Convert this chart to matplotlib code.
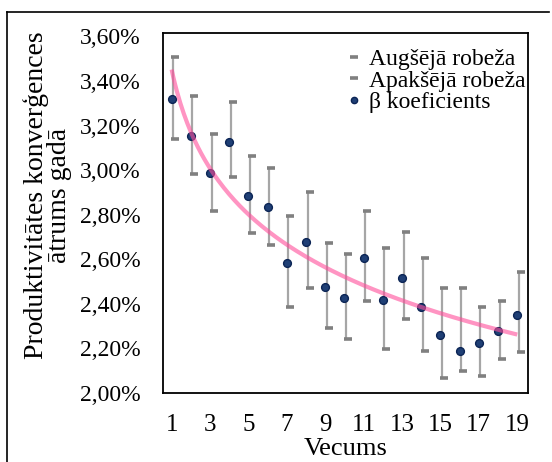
import numpy as np
import matplotlib
matplotlib.use('Agg')
import matplotlib.pyplot as plt
from matplotlib import transforms
from matplotlib.lines import Line2D

plt.rcParams['font.family'] = ['Liberation Serif', 'DejaVu Serif']

# Dati (procentos)
vecums = [1, 2, 3, 4, 5, 6, 7, 8, 9, 10, 11, 12, 13, 14, 15, 16, 17, 18, 19]
beta = [3.317, 3.151, 2.986, 3.128, 2.884, 2.833, 2.583, 2.676, 2.475, 2.424,
        2.604, 2.418, 2.518, 2.388, 2.259, 2.187, 2.223, 2.280, 2.352]
augseja = [3.507, 3.333, 3.161, 3.305, 3.061, 3.010, 2.794, 2.902, 2.673, 2.622,
           2.815, 2.650, 2.722, 2.607, 2.471, 2.471, 2.385, 2.413, 2.544]
apakseja = [3.140, 2.981, 2.817, 2.968, 2.716, 2.665, 2.385, 2.471, 2.291, 2.241,
            2.413, 2.198, 2.334, 2.190, 2.067, 2.098, 2.076, 2.154, 2.183]
y_ticks = [2.0, 2.2, 2.4, 2.6, 2.8, 3.0, 3.2, 3.4, 3.6]
x_ticks = [1, 3, 5, 7, 9, 11, 13, 15, 17, 19]

x = np.array(vecums, dtype=float)
fig = plt.figure(figsize=(5.52, 4.62), dpi=100)
ax = fig.add_axes([163 / 552, 69 / 462, 365 / 552, 360 / 462])

# nobīde kā Excel marķieriem
line_tr = transforms.offset_copy(ax.transData, fig=fig, x=1.5, y=0, units='dots')
cap_tr = transforms.offset_copy(ax.transData, fig=fig, x=3.5, y=0, units='dots')

ax.vlines(x, apakseja, augseja, colors='#A6A6A6', linewidth=1.6,
          transform=line_tr, zorder=2)
ax.plot(x, augseja, linestyle='none', marker='_', markersize=6,
        markeredgewidth=2.6, color='#808080', transform=cap_tr, zorder=3)
ax.plot(x, apakseja, linestyle='none', marker='_', markersize=6,
        markeredgewidth=2.6, color='#808080', transform=cap_tr, zorder=3)
ax.plot(x, beta, linestyle='none', marker='o', markersize=5.6,
        markerfacecolor='#1F3F75', markeredgecolor='#0B2455',
        markeredgewidth=1.0, zorder=4)

# logaritmiskā tendences līnija
b, a = np.polyfit(np.log(x), beta, 1)
xs = np.linspace(x.min(), x.max(), 200)
ax.plot(xs, a + b * np.log(xs), color='#FF4D9A', alpha=0.6, linewidth=3,
        solid_capstyle='butt', zorder=5)

ax.set_xlim(0.55, 19.56)
ax.set_ylim(2.0, 3.615)
ax.set_yticks(y_ticks)
ax.set_yticklabels([f'{v:.2f}%'.replace('.', ',') for v in y_ticks])
ax.set_xticks(x_ticks)
ax.set_xticklabels([str(v) for v in x_ticks])
ax.tick_params(axis='y', length=0, pad=16, labelsize=17)
ax.tick_params(axis='x', length=0, pad=15, labelsize=18)
for s in ax.spines.values():
    s.set_linewidth(1.3)
    s.set_color('black')

ax.set_xlabel('Vecums', fontsize=19)
ax.xaxis.set_label_coords(0.5, -0.125)
ax.set_ylabel('Produktivitātes konverģences\nātrums gadā', fontsize=20,
              linespacing=0.92, va='center')
ax.yaxis.set_label_coords(-0.316, 0.55)

handles = [
    Line2D([], [], linestyle='none', marker='_', markersize=6,
           markeredgewidth=2.6, color='#808080'),
    Line2D([], [], linestyle='none', marker='_', markersize=6,
           markeredgewidth=2.6, color='#808080'),
    Line2D([], [], linestyle='none', marker='o', markersize=4.5,
           markerfacecolor='#1F3F75', markeredgecolor='#0B2455'),
]
ax.legend(handles, ['Augšējā robeža', 'Apakšējā robeža', 'β koeficients'],
          loc='upper left', bbox_to_anchor=(0.5, 0.957), frameon=False,
          fontsize=17, handlelength=0.7, handletextpad=0.3,
          labelspacing=0.0, borderpad=0, borderaxespad=0)

# rāmis ap attēlu
fig.add_artist(Line2D([7 / 552, 7 / 552], [0, 1 - 12 / 462],
                      transform=fig.transFigure, color='black', linewidth=1.2))
fig.add_artist(Line2D([7 / 552, 549 / 552], [1 - 12 / 462, 1 - 12 / 462],
                      transform=fig.transFigure, color='black', linewidth=1.2))

fig.savefig('out.png', dpi=100)
